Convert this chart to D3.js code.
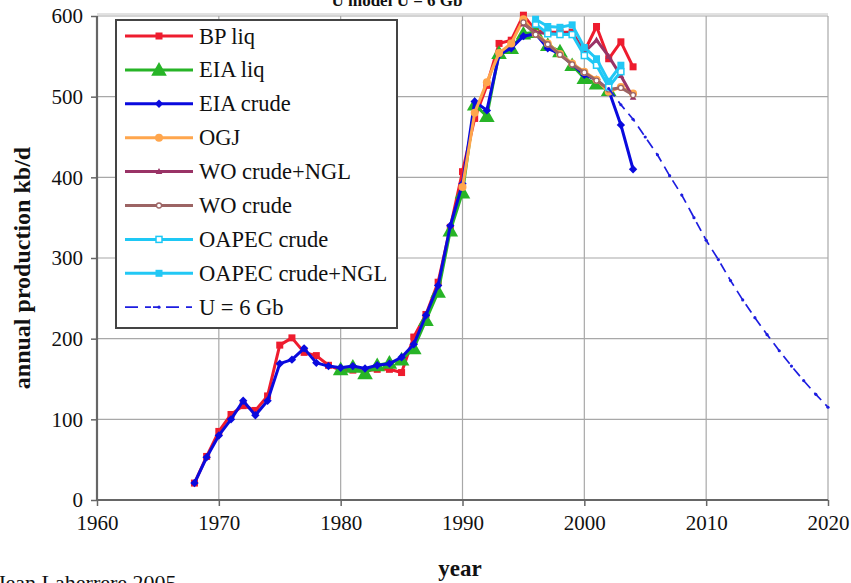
<!DOCTYPE html>
<html>
<head>
<meta charset="utf-8">
<script src="https://cdn.jsdelivr.net/npm/d3@7"></script>
<style>
  html, body { margin: 0; padding: 0; background: #fff; overflow: hidden; }
  svg { display: block; }
  text { font-family: "Liberation Serif", "Times New Roman", serif; fill: #111; }
</style>
</head>
<body>
<svg id="chart" width="851" height="583"></svg>
<script>
// Annual production (kb/d) by source, with a U = 6 Gb model decline
const years = d3.range(1968, 2005);

const bpLiq = [21, 54, 85, 106, 117, 111, 129, 192, 201, 183, 179, 167, 161, 161, 160, 162, 162, 158,
  202, 230, 270, 338, 407, 473, 514, 566, 570, 601, 582, 580, 580, 580, 556, 587, 547, 568, 537];
const eiaCrude = [21, 53, 80, 100, 123, 105, 123, 169, 174, 188, 170, 166, 164, 166, 163, 167, 169, 177,
  193, 229, 266, 340, 392, 494, 483, 552, 560, 575, 578, 560, 553, 540, 527, 521, 508, 465, 410];

const eiaLiqYears = d3.range(1980, 2003);
const eiaLiq = [162, 165, 157, 167, 170, 174, 188, 223, 258, 334, 381, 490, 476, 554, 560, 578, 580,
  564, 556, 539, 523, 516, 508];

const ogjYears = d3.range(1990, 2005);
const ogj = [388, 480, 518, 554, 566, 596, 578, 566, 553, 541, 531, 521, 506, 512, 504];

const woNglYears = d3.range(1995, 2005);
const woNgl = [590, 580, 578, 578, 578, 555, 570, 550, 526, 499];

const woCrudeYears = d3.range(1995, 2005);
const woCrude = [592, 577, 565, 552, 540, 530, 520, 509, 511, 502];

const oapecYears = d3.range(1996, 2004);
const oapecCrude = [590, 578, 577, 577, 551, 539, 512, 531];
const oapecNgl = [596, 587, 586, 589, 561, 547, 519, 539];

const modelYears = d3.range(2002, 2021);
const model = [510, 490, 472, 450, 428, 402, 378, 350, 322, 298, 272, 248, 226, 205, 185, 166, 148, 131, 115];

const xTicks = [1960, 1970, 1980, 1990, 2000, 2010, 2020];
const yTicks = [0, 100, 200, 300, 400, 500, 600];

const series = [
  { name: "BP liq", color: "#ee1c2e", xs: years, ys: bpLiq, marker: "square", size: 7, width: 3 },
  { name: "EIA liq", color: "#27b427", xs: eiaLiqYears, ys: eiaLiq, marker: "triangle", size: 13, width: 3 },
  { name: "EIA crude", color: "#0a0ade", xs: years, ys: eiaCrude, marker: "diamond", size: 6, width: 3 },
  { name: "OGJ", color: "#ffa64d", xs: ogjYears, ys: ogj, marker: "circle", size: 8, width: 3 },
  { name: "WO crude+NGL", color: "#993366", xs: woNglYears, ys: woNgl, marker: "tri-small", size: 6, width: 3 },
  { name: "WO crude", color: "#9c6464", xs: woCrudeYears, ys: woCrude, marker: "open-circle", size: 5, width: 3 },
  { name: "OAPEC crude", color: "#1ec8f5", xs: oapecYears, ys: oapecCrude, marker: "open-square", size: 6, width: 3 },
  { name: "OAPEC crude+NGL", color: "#22c8f5", xs: oapecYears, ys: oapecNgl, marker: "square", size: 7, width: 3 },
  { name: "U = 6 Gb", color: "#1d1de0", xs: modelYears, ys: model, marker: "dot", size: 3.2, width: 1.7, dash: "10,6" }
];

const svg = d3.select("#chart");
const x = d3.scaleLinear().domain([1960, 2020]).range([97, 828]);
const y = d3.scaleLinear().domain([0, 600]).range([500, 16]);

// grid
const grid = svg.append("g").attr("stroke", "#a8a8a8").attr("stroke-width", 1.2);
grid.selectAll("line.v").data(xTicks).join("line")
  .attr("x1", d => x(d)).attr("x2", d => x(d)).attr("y1", y(600)).attr("y2", y(0));
grid.selectAll("line.h").data(yTicks).join("line")
  .attr("x1", x(1960)).attr("x2", x(2020)).attr("y1", d => y(d)).attr("y2", d => y(d));
svg.append("line").attr("x1", x(1960)).attr("x2", x(2020)).attr("y1", y(600) - 2).attr("y2", y(600) - 2)
  .attr("stroke", "#c4c4c4").attr("stroke-width", 1);

// axes
const yAxis = svg.append("g").attr("transform", `translate(${x(1960)},0)`)
  .call(d3.axisLeft(y).tickValues(yTicks).tickSize(6).tickPadding(8).tickFormat(d3.format("d")));
const xAxis = svg.append("g").attr("transform", `translate(0,${y(0)})`)
  .call(d3.axisBottom(x).tickValues(xTicks).tickSize(6).tickPadding(9).tickFormat(d3.format("d")));
[yAxis, xAxis].forEach(g => {
  g.attr("font-family", null);
  g.select(".domain").attr("stroke", "#666").attr("stroke-width", 2.2);
  g.selectAll(".tick line").attr("stroke", "#666").attr("stroke-width", 1.5);
  g.selectAll(".tick text").attr("font-size", 21).attr("fill", "#111");
});
xAxis.select(".domain").attr("d", `M${x(1960)},0H${x(2020)}`);
yAxis.select(".domain").attr("d", `M0,${y(0)}V${y(600)}`);

// axis titles, title, credit
svg.append("text").attr("transform", `translate(30,268) rotate(-90)`)
  .attr("text-anchor", "middle").attr("font-size", 24).attr("font-weight", "bold")
  .text("annual production kb/d");
svg.append("text").attr("x", 460).attr("y", 576).attr("text-anchor", "middle")
  .attr("font-size", 23).attr("font-weight", "bold").text("year");
svg.append("text").attr("x", -3).attr("y", 590).attr("font-size", 22).text("Jean Laherrere 2005");
svg.append("text").attr("x", 397).attr("y", 6).attr("text-anchor", "middle")
  .attr("font-size", 17).attr("font-weight", "bold").text("U model U = 6 Gb");

function drawMarker(g, m, cx, cy, color) {
  const s = m.size;
  switch (m.marker) {
    case "square":
      g.append("rect").attr("x", cx - s / 2).attr("y", cy - s / 2).attr("width", s).attr("height", s).attr("fill", color);
      break;
    case "open-square":
      g.append("rect").attr("x", cx - s / 2).attr("y", cy - s / 2).attr("width", s).attr("height", s)
        .attr("fill", "#fff").attr("stroke", color).attr("stroke-width", 1.5);
      break;
    case "triangle":
      g.append("path").attr("d", `M${cx},${cy - s * 0.6}L${cx + s * 0.6},${cy + s * 0.45}L${cx - s * 0.6},${cy + s * 0.45}Z`).attr("fill", color);
      break;
    case "tri-small":
      g.append("path").attr("d", `M${cx},${cy - s * 0.6}L${cx + s * 0.55},${cy + s * 0.4}L${cx - s * 0.55},${cy + s * 0.4}Z`).attr("fill", color);
      break;
    case "diamond":
      g.append("path").attr("d", `M${cx},${cy - s * 0.7}L${cx + s * 0.7},${cy}L${cx},${cy + s * 0.7}L${cx - s * 0.7},${cy}Z`).attr("fill", color);
      break;
    case "circle":
      g.append("circle").attr("cx", cx).attr("cy", cy).attr("r", s / 2).attr("fill", color);
      break;
    case "open-circle":
      g.append("circle").attr("cx", cx).attr("cy", cy).attr("r", s / 2).attr("fill", "#fff").attr("stroke", color).attr("stroke-width", 1.3);
      break;
    case "dot":
      g.append("circle").attr("cx", cx).attr("cy", cy).attr("r", s / 2).attr("fill", color);
      break;
  }
}

// series lines and markers
const line = d3.line().x(d => x(d[0])).y(d => y(d[1]));
series.forEach(m => {
  const pts = m.xs.map((yr, i) => [yr, m.ys[i]]);
  const g = svg.append("g");
  g.append("path").attr("d", line(pts)).attr("fill", "none").attr("stroke", m.color)
    .attr("stroke-width", m.width).attr("stroke-linejoin", "round")
    .attr("stroke-dasharray", m.dash || null);
  pts.forEach(p => drawMarker(g, m, x(p[0]), y(p[1]), m.color));
});

// legend
const lg = svg.append("g");
lg.append("rect").attr("x", 116).attr("y", 20).attr("width", 281).attr("height", 308)
  .attr("fill", "#fff").attr("stroke", "#444").attr("stroke-width", 2);
series.forEach((m, i) => {
  const ly = 36 + i * 33.9;
  const row = lg.append("g");
  row.append("line").attr("x1", 125).attr("x2", 193).attr("y1", ly).attr("y2", ly)
    .attr("stroke", m.color).attr("stroke-width", m.width)
    .attr("stroke-dasharray", m.dash ? "13,7,6,2,6,7" : null);
  drawMarker(row, m, 159, ly, m.color);
  row.append("text").attr("x", 199).attr("y", ly + 7.5).attr("font-size", 22.5).text(m.name);
});
</script>
</body>
</html>
